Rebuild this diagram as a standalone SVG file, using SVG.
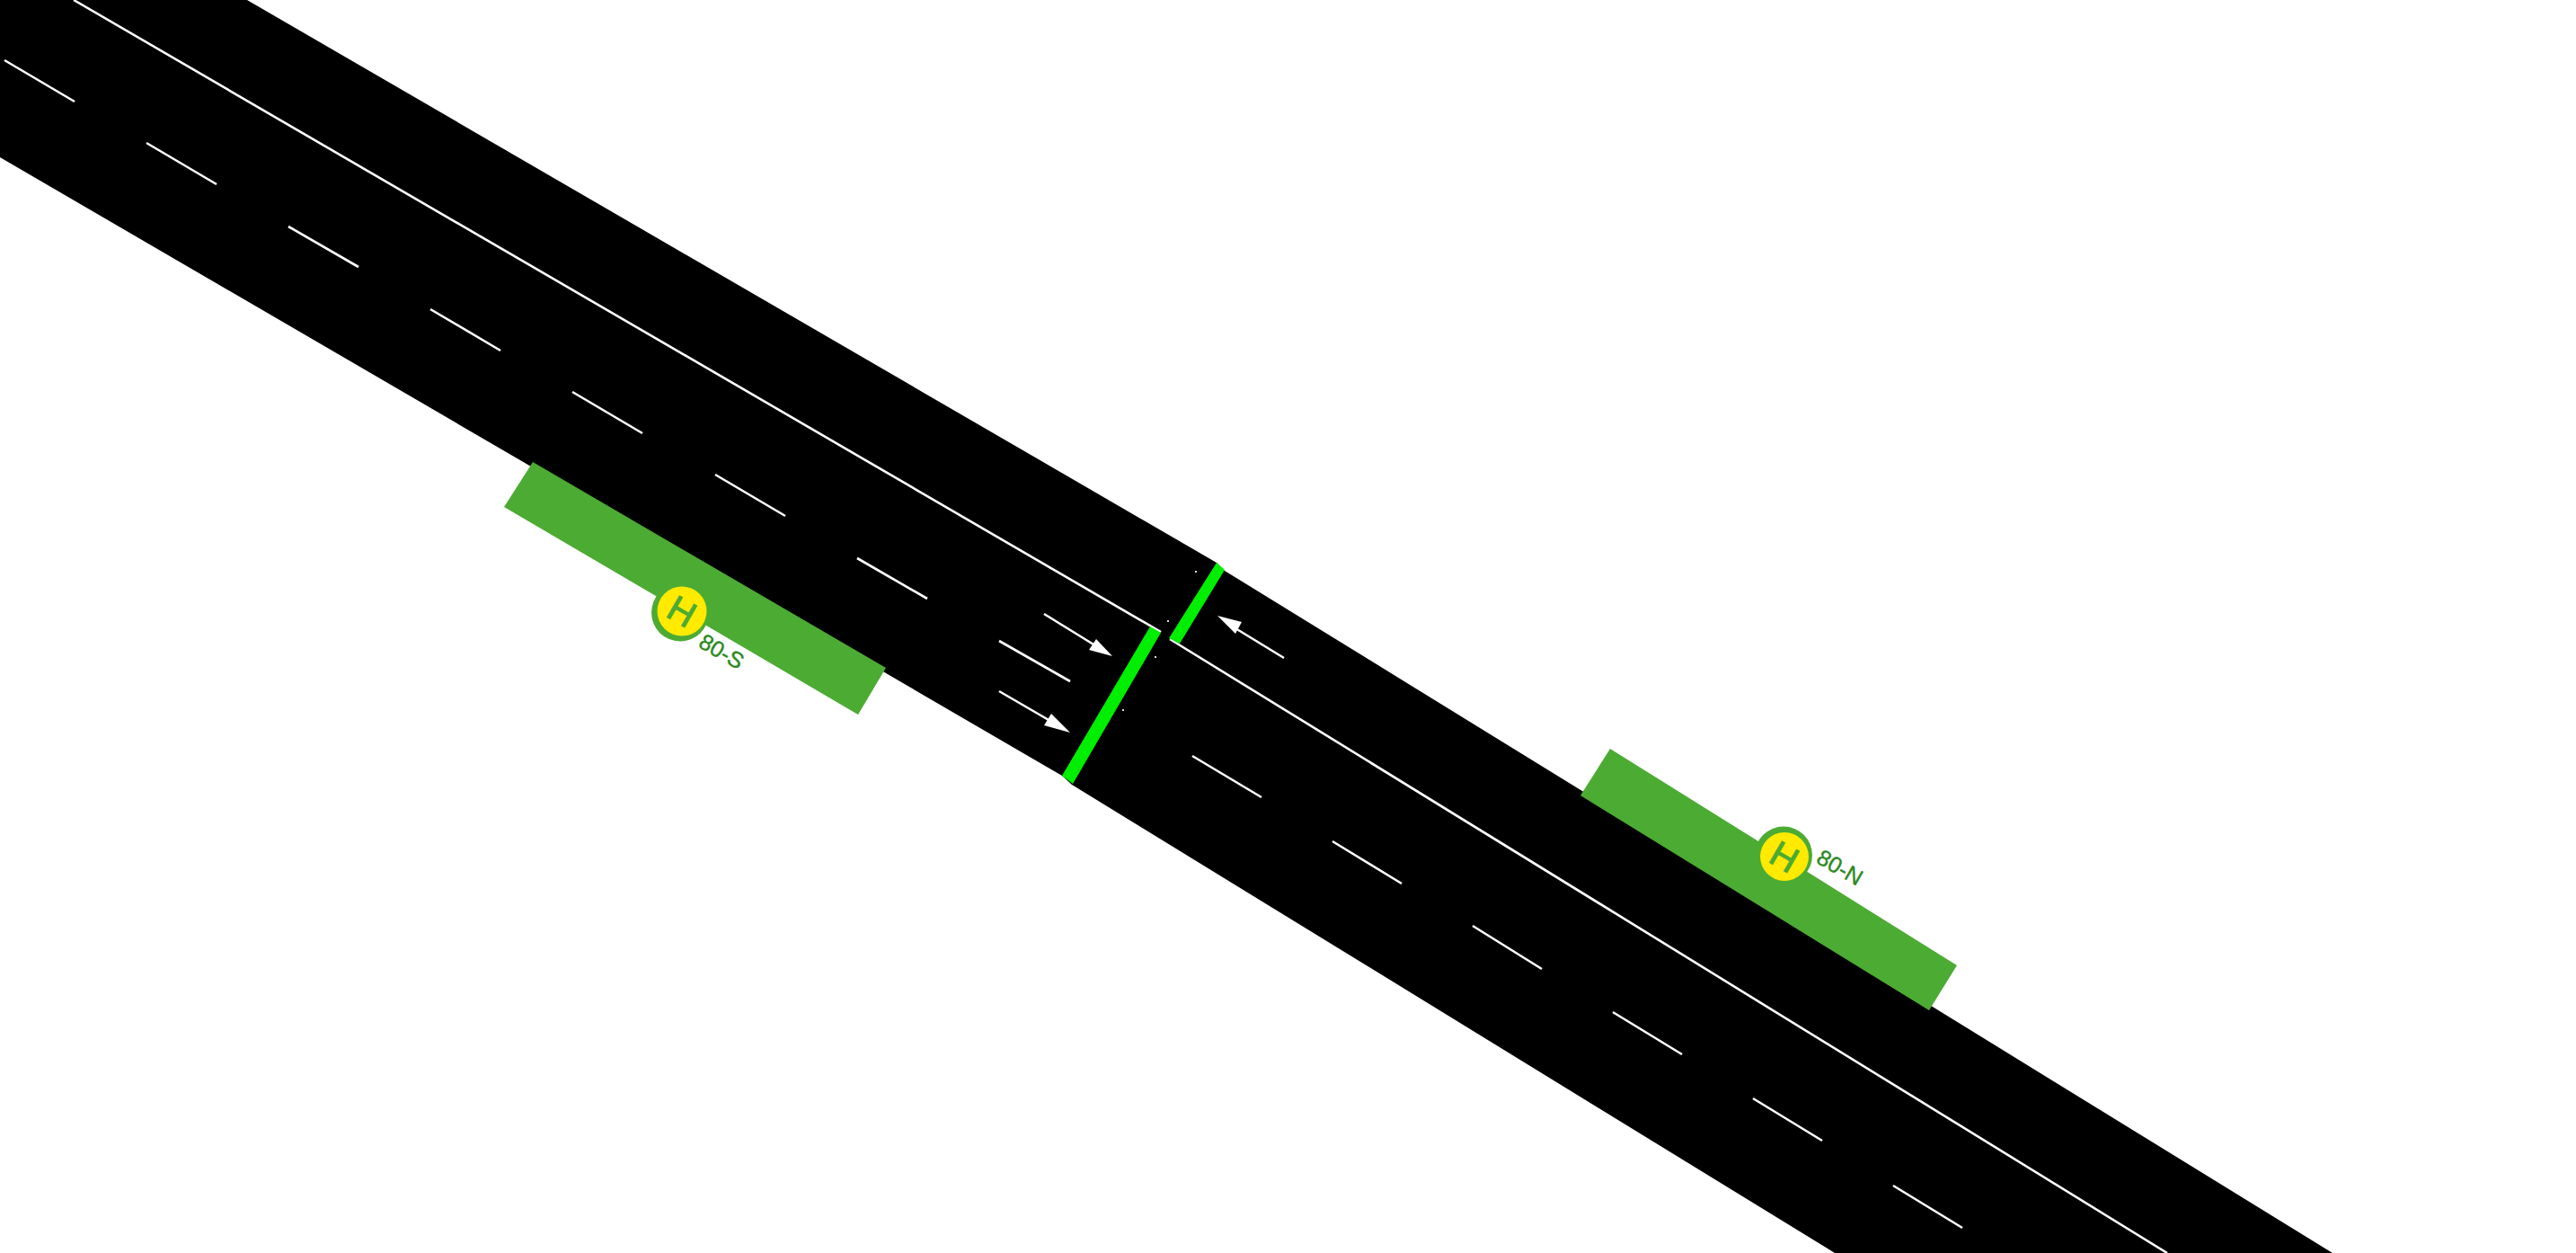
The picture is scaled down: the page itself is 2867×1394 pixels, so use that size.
<svg xmlns="http://www.w3.org/2000/svg" width="2867" height="1394" viewBox="0 0 2867 1394">
<style>
.mark{stroke:#fff;stroke-width:2.6;fill:none}
.head{fill:#fff;stroke:none}
.stop{fill:#00ee00}
.park{fill:#4cab33}
.ring{fill:#4cab33}
.disc{fill:#ffea00}
.h{font-family:"Liberation Sans",Arial,sans-serif;font-size:40px;fill:#4cab33;stroke:#4cab33;stroke-width:1;text-anchor:middle}
.lbl{font-family:"Liberation Sans",Arial,sans-serif;font-size:25px;fill:#2c8a1e;stroke:#2c8a1e;stroke-width:.4}
.speck{fill:#ddd}
</style>
<rect width="2867" height="1394" fill="#fff"/>
<g id="road">
<polygon points="0,0 275,0 1354,626 1363,635 2596,1394 2042,1394 1193,873 1182,863 0,175" fill="#000"/>
</g>
<g id="parks">
<polygon class="park" points="593,514 986,743 955,795 561,564"/>
<polygon class="park" points="1792,833 2178,1074 2147,1124 1759,885"/>
</g>
<g id="centerlines">
<line class="mark" x1="82" y1="0" x2="1292" y2="703"/>
<line class="mark" x1="1302" y1="711" x2="2412" y2="1394"/>
</g>
<g id="lane-dashes-left">
<line class="mark" x1="5" y1="67" x2="83" y2="113"/>
<line class="mark" x1="163" y1="159" x2="241" y2="205"/>
<line class="mark" x1="321" y1="252" x2="399" y2="297"/>
<line class="mark" x1="479" y1="344" x2="557" y2="390"/>
<line class="mark" x1="637" y1="436" x2="715" y2="482"/>
<line class="mark" x1="796" y1="528" x2="874" y2="574"/>
<line class="mark" x1="954" y1="621" x2="1032" y2="666"/>
<line class="mark" x1="1112" y1="713" x2="1191" y2="758"/>
</g>
<g id="lane-dashes-right">
<line class="mark" x1="1327" y1="841" x2="1404" y2="887"/>
<line class="mark" x1="1483" y1="936" x2="1560" y2="983"/>
<line class="mark" x1="1639" y1="1030" x2="1716" y2="1078"/>
<line class="mark" x1="1795" y1="1126" x2="1872" y2="1173"/>
<line class="mark" x1="1951" y1="1222" x2="2028" y2="1269"/>
<line class="mark" x1="2107" y1="1319" x2="2184" y2="1366"/>
</g>
<g id="arrows">
<line class="mark" x1="1162" y1="683" x2="1222" y2="720"/>
<polygon class="head" points="1238,730 1220,711 1212,723"/>
<line class="mark" x1="1112" y1="769" x2="1174" y2="805"/>
<polygon class="head" points="1191,815 1170,794 1162,807"/>
<line class="mark" x1="1429" y1="732" x2="1375" y2="699"/>
<polygon class="head" points="1355,685 1382,692 1375,705"/>
</g>
<g id="stop-lines">
<polygon class="stop" points="1280,697 1292,704 1194,872 1182,863"/>
<polygon class="stop" points="1354,626 1363,634 1313,716 1301,710"/>
</g>
<g id="specks">
<rect class="speck" x="1330" y="635" width="2" height="2"/>
<rect class="speck" x="1299" y="690" width="2" height="2"/>
<rect class="speck" x="1285" y="730" width="2" height="2"/>
<rect class="speck" x="1249" y="789" width="2" height="2"/>
</g>
<g id="stop-80-S">
<circle class="ring" cx="757" cy="681.5" r="32"/>
<circle class="disc" cx="759" cy="680" r="27.5"/>
<text class="h" transform="translate(759,680) rotate(30) translate(0,14)">H</text>
<text class="lbl" transform="translate(776,719) rotate(30)">80-S</text>
</g>
<g id="stop-80-N">
<circle class="ring" cx="1985" cy="951.5" r="32"/>
<circle class="disc" cx="1986" cy="953" r="27"/>
<text class="h" transform="translate(1986,953) rotate(30) translate(0,14)">H</text>
<text class="lbl" transform="translate(2020,959) rotate(30)">80-N</text>
</g>
</svg>
